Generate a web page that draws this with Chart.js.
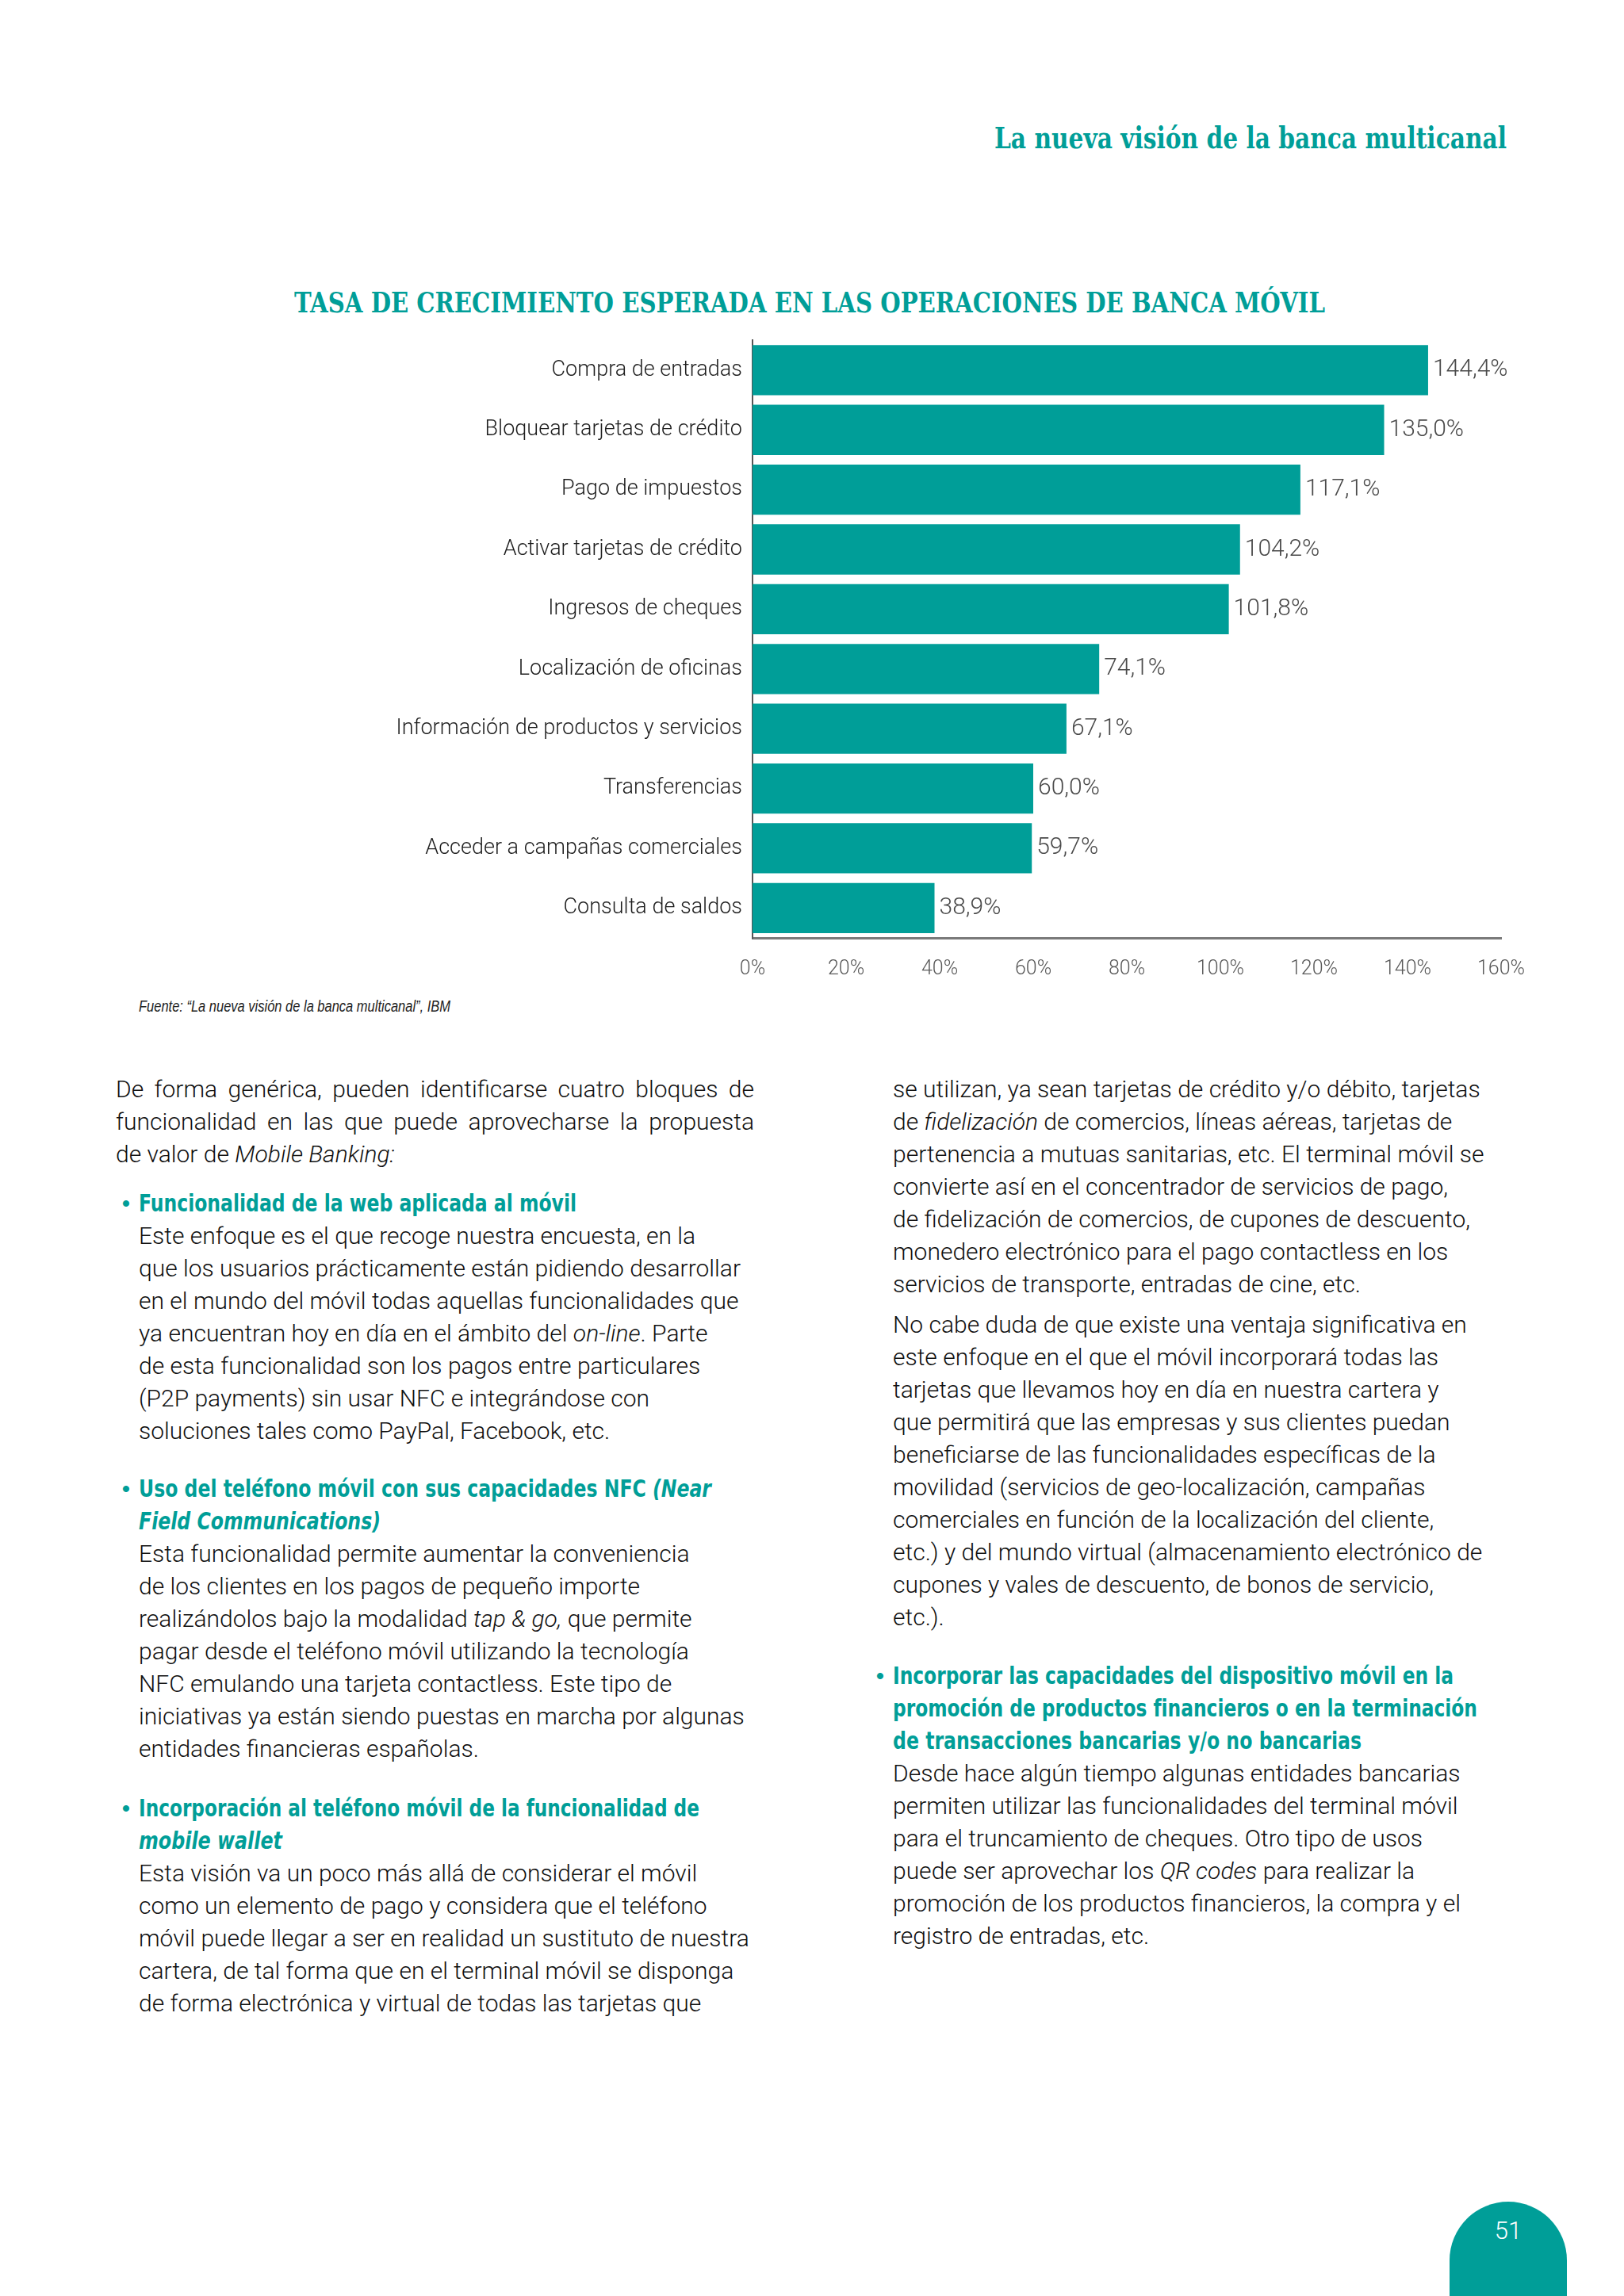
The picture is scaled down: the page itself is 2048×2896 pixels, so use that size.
<!DOCTYPE html>
<html lang="es">
<head>
<meta charset="utf-8">
<title>Tasa de crecimiento esperada en las operaciones de banca móvil</title>
<script src="https://cdn.jsdelivr.net/npm/chart.js@4.4.1/dist/chart.umd.min.js"></script>
<style>
  html, body { margin: 0; padding: 0; background: #fff; }
  body { width: 2048px; height: 2896px; position: relative; overflow: hidden; font-family: Roboto, "Liberation Sans", sans-serif; font-weight: 300; color: #111; }
  .abs { position: absolute; }
  .fit { display: inline-block; white-space: nowrap; transform-origin: left center; }
  #cabecera { left: 1254px; top: 148px; font-family: "DejaVu Serif", serif; font-weight: bold; font-size: 38px; color: #009e98; line-height: 52px; }
  #titulo { left: 371px; top: 360px; font-family: "DejaVu Serif", serif; font-weight: bold; font-size: 35px; color: #009e98; line-height: 44px; }
  #grafico { position: absolute; left: 0; top: 400px; }
  #fuente { left: 175px; top: 1256px; font-family: "Liberation Sans", sans-serif; font-style: italic; font-size: 20px; line-height: 26px; color: #222; font-weight: normal; }
  .col { position: absolute; font-size: 30px; line-height: 41px; }
  .col div { white-space: nowrap; }
  .just { text-align: justify; text-align-last: justify; white-space: normal !important; }
  .tit { color: #009e98; font-family: "Liberation Sans Narrow", "DejaVu Sans Condensed", sans-serif; font-weight: bold; font-size: 30px; position: relative; }
  .tit .bala { position: absolute; left: -21px; top: 0; font-family: "Liberation Sans", sans-serif; font-size: 28px; }
  #pagina { left: 1828px; top: 2777px; width: 148px; height: 130px; background: #009e98; border-radius: 74px 74px 0 0; color: #fff; text-align: center; font-size: 31px; line-height: 74px; }
</style>
</head>
<body>

<div id="cabecera" class="abs"><span class="fit" data-w="646">La nueva visión de la banca multicanal</span></div>
<div id="titulo" class="abs"><span class="fit" data-w="1300">TASA DE CRECIMIENTO ESPERADA EN LAS OPERACIONES DE BANCA MÓVIL</span></div>

<canvas id="grafico" width="2048" height="850"></canvas>

<div id="fuente" class="abs"><span class="fit" data-w="393">Fuente: “La nueva visión de la banca multicanal”, IBM</span></div>

<!-- columna izquierda -->
<div class="col" style="left:146px; top:1353px; width:805px;">
  <div class="just">De forma genérica, pueden identificarse cuatro bloques de funcionalidad en las que puede aprovecharse la propuesta</div>
  <div>de valor de <i>Mobile Banking:</i></div>
</div>
<div class="col" style="left:175px; top:1497px;">
  <div class="tit"><span class="bala">•</span><span class="fit" data-w="552">Funcionalidad de la web aplicada al móvil</span></div>
  <div>Este enfoque es el que recoge nuestra encuesta, en la</div>
  <div>que los usuarios prácticamente están pidiendo desarrollar</div>
  <div>en el mundo del móvil todas aquellas funcionalidades que</div>
  <div>ya encuentran hoy en día en el ámbito del <i>on-line</i>. Parte</div>
  <div>de esta funcionalidad son los pagos entre particulares</div>
  <div>(P2P payments) sin usar NFC e integrándose con</div>
  <div>soluciones tales como PayPal, Facebook, etc.</div>
</div>
<div class="col" style="left:175px; top:1857px;">
  <div class="tit"><span class="bala">•</span><span class="fit" data-w="722">Uso del teléfono móvil con sus capacidades NFC <i>(Near</i></span></div>
  <div class="tit"><span class="fit" data-w="305"><i>Field Communications)</i></span></div>
  <div>Esta funcionalidad permite aumentar la conveniencia</div>
  <div>de los clientes en los pagos de pequeño importe</div>
  <div>realizándolos bajo la modalidad <i>tap &amp; go,</i> que permite</div>
  <div>pagar desde el teléfono móvil utilizando la tecnología</div>
  <div>NFC emulando una tarjeta contactless. Este tipo de</div>
  <div>iniciativas ya están siendo puestas en marcha por algunas</div>
  <div>entidades financieras españolas.</div>
</div>
<div class="col" style="left:175px; top:2260px;">
  <div class="tit"><span class="bala">•</span><span class="fit" data-w="707">Incorporación al teléfono móvil de la funcionalidad de</span></div>
  <div class="tit"><span class="fit" data-w="181"><i>mobile wallet</i></span></div>
  <div>Esta visión va un poco más allá de considerar el móvil</div>
  <div>como un elemento de pago y considera que el teléfono</div>
  <div>móvil puede llegar a ser en realidad un sustituto de nuestra</div>
  <div>cartera, de tal forma que en el terminal móvil se disponga</div>
  <div>de forma electrónica y virtual de todas las tarjetas que</div>
</div>

<!-- columna derecha -->
<div class="col" style="left:1126px; top:1353px;">
  <div>se utilizan, ya sean tarjetas de crédito y/o débito, tarjetas</div>
  <div>de <i>fidelización</i> de comercios, líneas aéreas, tarjetas de</div>
  <div>pertenencia a mutuas sanitarias, etc. El terminal móvil se</div>
  <div>convierte así en el concentrador de servicios de pago,</div>
  <div>de fidelización de comercios, de cupones de descuento,</div>
  <div>monedero electrónico para el pago contactless en los</div>
  <div>servicios de transporte, entradas de cine, etc.</div>
</div>
<div class="col" style="left:1126px; top:1650px;">
  <div>No cabe duda de que existe una ventaja significativa en</div>
  <div>este enfoque en el que el móvil incorporará todas las</div>
  <div>tarjetas que llevamos hoy en día en nuestra cartera y</div>
  <div>que permitirá que las empresas y sus clientes puedan</div>
  <div>beneficiarse de las funcionalidades específicas de la</div>
  <div>movilidad (servicios de geo-localización, campañas</div>
  <div>comerciales en función de la localización del cliente,</div>
  <div>etc.) y del mundo virtual (almacenamiento electrónico de</div>
  <div>cupones y vales de descuento, de bonos de servicio,</div>
  <div>etc.).</div>
</div>
<div class="col" style="left:1126px; top:2093px;">
  <div class="tit"><span class="bala">•</span><span class="fit" data-w="707">Incorporar las capacidades del dispositivo móvil en la</span></div>
  <div class="tit"><span class="fit" data-w="737">promoción de productos financieros o en la terminación</span></div>
  <div class="tit"><span class="fit" data-w="591">de transacciones bancarias y/o no bancarias</span></div>
  <div>Desde hace algún tiempo algunas entidades bancarias</div>
  <div>permiten utilizar las funcionalidades del terminal móvil</div>
  <div>para el truncamiento de cheques. Otro tipo de usos</div>
  <div>puede ser aprovechar los <i>QR codes</i> para realizar la</div>
  <div>promoción de los productos financieros, la compra y el</div>
  <div>registro de entradas, etc.</div>
</div>

<div id="pagina" class="abs">51</div>

<script>
// datos del grafico
const categorias = [
  "Compra de entradas",
  "Bloquear tarjetas de crédito",
  "Pago de impuestos",
  "Activar tarjetas de crédito",
  "Ingresos de cheques",
  "Localización de oficinas",
  "Información de productos y servicios",
  "Transferencias",
  "Acceder a campañas comerciales",
  "Consulta de saldos"
];
const valores = [144.4, 135.0, 117.1, 104.2, 101.8, 74.1, 67.1, 60.0, 59.7, 38.9];
const ticksX = [0, 20, 40, 60, 80, 100, 120, 140, 160];

// ajustar el ancho de los textos al original
document.querySelectorAll('.fit').forEach(el => {
  const w = el.getBoundingClientRect().width;
  el.style.transform = 'scaleX(' + (Number(el.dataset.w) / w) + ')';
});

const formato = v => v.toFixed(1).replace('.', ',') + '%';

// etiquetas de valor al final de cada barra
const etiquetas = {
  id: 'etiquetas',
  afterDatasetsDraw(chart) {
    const ctx = chart.ctx;
    const meta = chart.getDatasetMeta(0);
    ctx.save();
    ctx.font = '300 30px Roboto';
    ctx.fillStyle = '#4a4a4a';
    ctx.textBaseline = 'middle';
    ctx.textAlign = 'left';
    meta.data.forEach((bar, i) => {
      ctx.fillText(formato(valores[i]), bar.x + 6, bar.y);
    });
    ctx.restore();
  }
};

new Chart(document.getElementById("grafico"), {
  type: 'bar',
  data: {
    labels: categorias,
    datasets: [{
      data: valores,
      backgroundColor: '#009e98',
      barPercentage: 0.84,
      categoryPercentage: 1.0
    }]
  },
  options: {
    indexAxis: 'y',
    responsive: false,
    animation: false,
    layout: { padding: { top: 21, right: 155, left: 0, bottom: 0 } },
    plugins: {
      legend: { display: false },
      tooltip: { enabled: false }
    },
    scales: {
      x: {
        min: 0,
        max: 160,
        afterBuildTicks: s => { s.ticks = ticksX.map(v => ({ value: v })); },
        ticks: {
          callback: v => v + '%',
          color: '#5a5a5a',
          font: { family: 'Roboto', weight: '300', size: 25 },
          padding: 25,
          maxRotation: 0
        },
        grid: { display: false, drawTicks: false },
        border: { display: true, color: '#7a7a7a', width: 3 },
        afterFit: s => { s.height = 67; }
      },
      y: {
        ticks: {
          color: '#1e1e1e',
          font: { family: 'Roboto', weight: '300', size: 27 },
          padding: 13
        },
        grid: { display: false, drawTicks: false },
        border: { display: true, color: '#555', width: 2 },
        afterFit: s => { s.width = 949; }
      }
    }
  },
  plugins: [etiquetas]
});
</script>
</body>
</html>
